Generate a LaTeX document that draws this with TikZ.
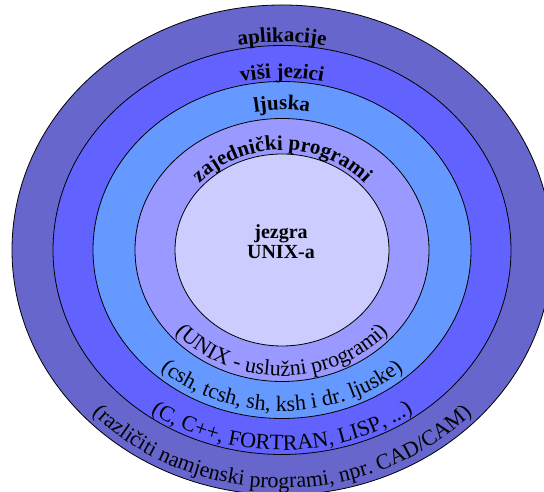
\documentclass[tikz,border=0pt]{standalone}
\usepackage{fontspec}
\setmainfont{Liberation Serif}
\usetikzlibrary{decorations.text}
\definecolor{ringA}{HTML}{6666CC}
\definecolor{ringB}{HTML}{6262FF}
\definecolor{ringC}{HTML}{6699FF}
\definecolor{ringD}{HTML}{9999FF}
\definecolor{ringE}{HTML}{CCCCFF}
\newcommand\rtop{\fontsize{21}{21}\selectfont\bfseries}
\newcommand\rbot{\fontsize{22}{22}\selectfont}
\begin{document}
\begin{tikzpicture}[x=1pt,y=1pt,
  ring/.style={draw=black, line width=0.8pt},
  curvetext/.style={decorate, decoration={text along path, text align=center, text={#1}}}]
\useasboundingbox (0,0) rectangle (544,492);
\fill[white] (0,0) rectangle (544,492);
\coordinate (C) at (282,242);
\draw[ring, fill=ringA] (C) ellipse [x radius=270, y radius=245];
\draw[ring, fill=ringB] (C) ellipse [x radius=229, y radius=204.5];
\draw[ring, fill=ringC] (C) ellipse [x radius=189, y radius=168.5];
\draw[ring, fill=ringD] (C) ellipse [x radius=147, y radius=131.5];
\draw[ring, fill=ringE] (C) ellipse [x radius=107, y radius=96];
% top labels
\path[curvetext={|\rtop|aplikacije}] ([shift={(150:232 and 208)}]C) arc[start angle=150, end angle=30, x radius=232, y radius=208];
\path[curvetext={|\rtop|viši jezici}] ([shift={(150:193 and 172)}]C) arc[start angle=150, end angle=30, x radius=193, y radius=172];
\path[curvetext={|\rtop|ljuska}] ([shift={(150:157 and 140)}]C) arc[start angle=150, end angle=30, x radius=157, y radius=140];
\path[curvetext={|\rtop|zajednički programi}] ([shift={(160:111 and 100)}]C) arc[start angle=160, end angle=20, x radius=111, y radius=100];
% bottom labels
\path[curvetext={|\rbot|(UNIX - uslužni programi)}] ([shift={(205:141 and 126)}]C) arc[start angle=205, end angle=335, x radius=141, y radius=126];
\path[curvetext={|\rbot|(csh, tcsh, sh, ksh i dr. ljuske)}] ([shift={(205:182 and 161)}]C) arc[start angle=205, end angle=335, x radius=182, y radius=161];
\path[curvetext={|\rbot|(C, C++, FORTRAN, LISP, ...)}] ([shift={(205:224 and 200)}]C) arc[start angle=205, end angle=335, x radius=224, y radius=200];
\path[curvetext={|\rbot|(različiti namjenski programi, npr. CAD/CAM)}] ([shift={(205:262 and 238)}]C) arc[start angle=205, end angle=335, x radius=262, y radius=238];
% core
\node[font=\fontsize{20}{20}\selectfont\bfseries, align=center, inner sep=0pt] (core) at (281,250) {jezgra\\UNIX-a};
\end{tikzpicture}
\end{document}
